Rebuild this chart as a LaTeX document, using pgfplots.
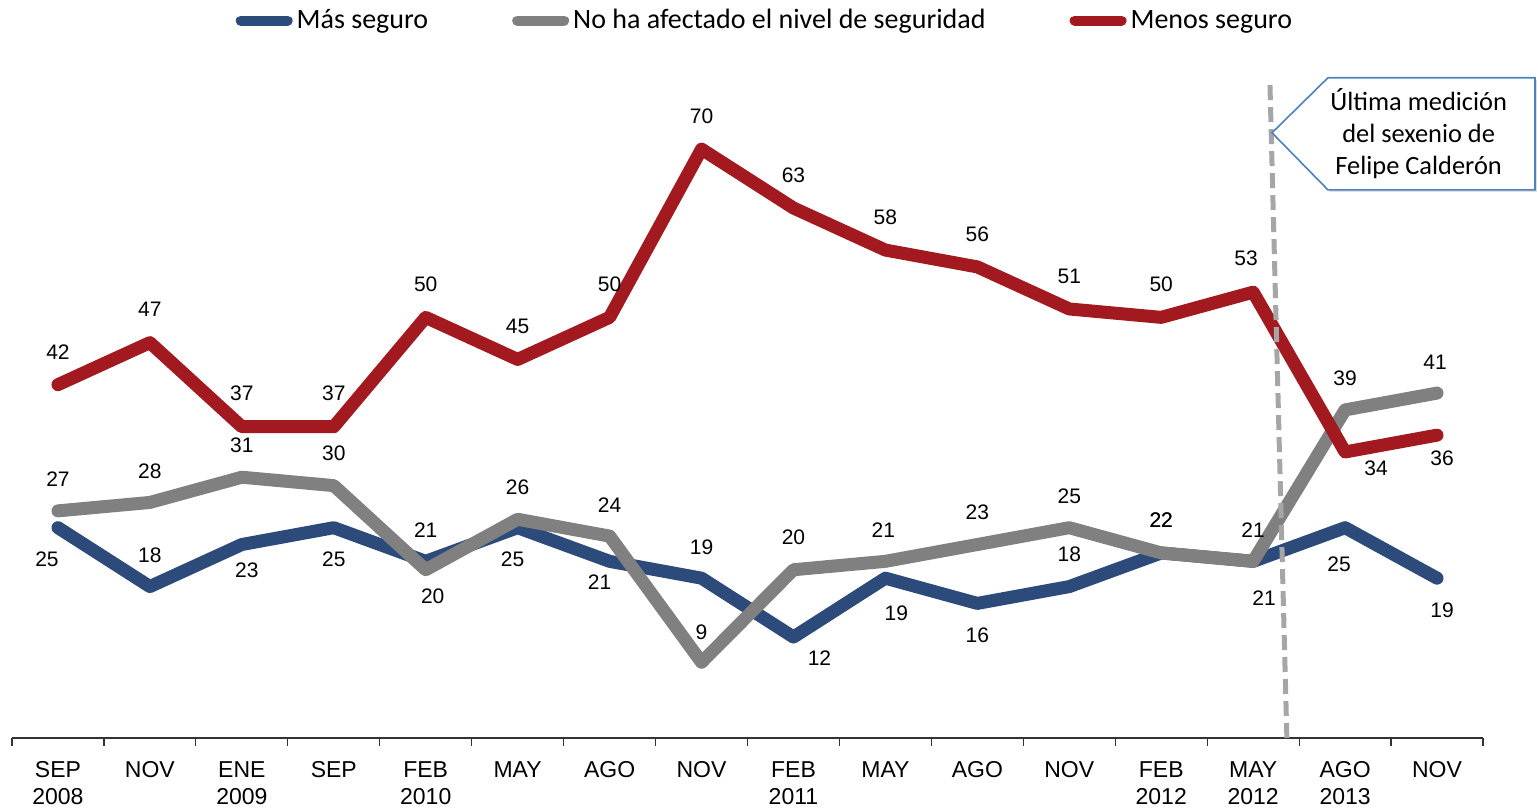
\documentclass[border=0pt]{standalone}
\usepackage{fontspec}
\setmainfont{Liberation Sans}
\newfontfamily\carlito{Carlito}
\usepackage{pgfplots}
\pgfplotsset{compat=1.18}
\usepackage{pgfplotstable}
\usetikzlibrary{shadows}
\definecolor{cblue}{HTML}{2C4A7A}
\definecolor{cgray}{HTML}{808080}
\definecolor{cred}{HTML}{A2191F}
\definecolor{cdash}{HTML}{A6A6A6}
\definecolor{cbox}{HTML}{4F81BD}

\pgfplotstableread{
x y dx dy
0 25 -5.5 -16
1 18 0 15.5
2 23 2.5 -13
3 25 0 -16
4 21 0 15.5
5 25 -2.5 -16
6 21 -5 -10.5
7 19 0 15.5
8 12 13 -10.5
9 19 5.5 -17.5
10 16 0 -16
11 18 0 16
12 22 0 16.5
13 21 5.5 -18.5
14 25 -3 -18.5
15 19 2.5 -16
}\datamas

\pgfplotstableread{
x y dx dy
0 27 0 16
1 28 0 15.5
2 31 0 16
3 30 0 16
4 20 3.5 -13.5
5 26 0 16
6 24 0 15.5
7 9 0 15
8 20 0 16
9 21 -1 15.5
10 23 0 16
11 25 0 15.5
12 22 0 16.5
13 21 0 15.5
14 39 0 16
15 41 -1 15.5
}\datano

\pgfplotstableread{
x y dx dy
0 42 0 16.5
1 47 0 16.5
2 37 0 16.5
3 37 0 16.5
4 50 0 16.5
5 45 0 16.5
6 50 0 16.5
7 70 0 16.5
8 63 0 16.5
9 58 0 16.5
10 56 0 16.5
11 51 0 16.5
12 50 0 16.5
13 53 -3.5 17
14 34 15.5 -8
15 36 2.5 -11.5
}\datamenos

\begin{document}
\begin{tikzpicture}
\begin{axis}[
  at={(0,0)}, anchor=south west,
  scale only axis, width=735.5pt, height=336.5pt,
  xmin=-0.5, xmax=15.5, ymin=0, ymax=80,
  axis x line*=bottom, axis y line=none,
  x axis line style={line width=0.6pt, color=black!80},
  xtick={0,...,15},
  xticklabels={{SEP\\2008},NOV,{ENE\\2009},SEP,{FEB\\2010},MAY,AGO,NOV,{FEB\\2011},MAY,AGO,NOV,{FEB\\2012},{MAY\\2012},{AGO\\2013},NOV},
  major x tick style={draw=none},
  minor xtick={-0.5,0.5,...,15.5},
  minor tick length=4pt, tick align=outside,
  minor x tick style={line width=0.6pt, color=black!80},
  xticklabel style={align=center, font=\fontsize{11.5}{13.5}\selectfont, anchor=north, yshift=-4pt},
  clip=false,
  /pgf/number format/assume math mode=true,
  legend columns=3,
  legend style={draw=none, fill=none, at={(0.5125,1.066)}, anchor=center,
    font=\carlito\fontsize{14}{16}\selectfont, inner sep=0pt,
    /tikz/every even column/.append style={column sep=40pt}},
  legend image code/.code={\draw[#1, line width=5pt, line cap=round] (2.5pt,0pt) -- (26pt,0pt);},
  every axis plot/.append style={line width=6.5pt, line join=round, line cap=round},
  lbl/.style={draw=none, mark=none, forget plot, nodes near coords, point meta=y,
    visualization depends on={\thisrow{dx}\as\dx},
    visualization depends on={\thisrow{dy}\as\dy},
    every node near coord/.append style={font=\fontsize{10.5}{12}\selectfont, color=black, anchor=center, xshift=\dx pt, yshift=\dy pt}},
]
\addplot[cblue, mark=none] table[x=x,y=y] {\datamas};
\addlegendentry{Más seguro}
\addplot[cgray, mark=none] table[x=x,y=y] {\datano};
\addlegendentry{No ha afectado el nivel de seguridad}
\addplot[cred, mark=none] table[x=x,y=y] {\datamenos};
\addlegendentry{Menos seguro}

\addplot[lbl] table[x=x,y=y] {\datamas};
\addplot[lbl] table[x=x,y=y] {\datano};
\addplot[lbl] table[x=x,y=y] {\datamenos};

\draw[cdash, line width=2.5pt, dash pattern=on 7.5pt off 3.5pt] (axis cs:13.183,77.6) -- (axis cs:13.368,-0.6);
\draw[cbox, line width=0.8pt, fill=white, drop shadow={opacity=0.25, shadow xshift=1pt, shadow yshift=-1pt}]
  (axis cs:13.205,71.94) -- (axis cs:13.813,78.48) -- (axis cs:16.065,78.48) -- (axis cs:16.065,65.16) -- (axis cs:13.813,65.16) -- cycle;
\node[align=center, font=\carlito\fontsize{13.2}{16}\selectfont] at (axis cs:14.80,71.8) {Última medición\\del sexenio de\\Felipe Calderón};
\end{axis}
\pgfresetboundingbox
\path[use as bounding box] (-6pt,-36pt) rectangle (763pt,369pt);
\end{tikzpicture}
\end{document}
